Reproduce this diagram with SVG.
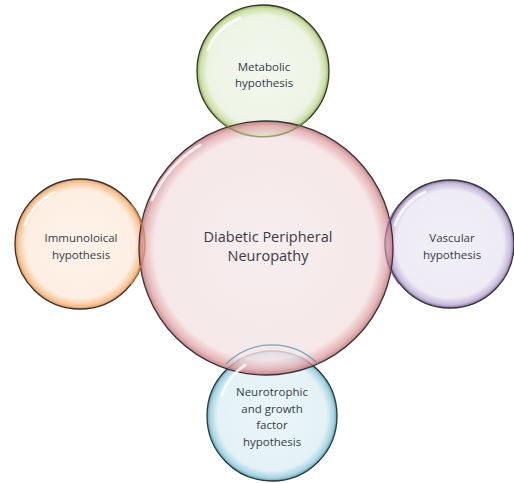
<svg xmlns="http://www.w3.org/2000/svg" width="514" height="483" viewBox="0 0 514 483">
<defs>
<style>
.t{font-family:"Open Sans","Liberation Sans",sans-serif;fill:#363b48;text-anchor:middle}
.s{font-size:11.5px}
.b{font-size:14.5px}
.edge{fill:none;stroke:#333333;stroke-width:1.3}
.hl{fill:none;stroke:#ffffff;stroke-width:3;stroke-linecap:round;opacity:0.8}
</style>
<radialGradient id="gR" cx="50%" cy="50%" r="50%"><stop offset="0" stop-color="#f6eaeb"/><stop offset="0.88" stop-color="#f4e3e5"/><stop offset="0.96" stop-color="#e0a8ab"/><stop offset="1" stop-color="#c06c72"/></radialGradient>
<radialGradient id="gG" cx="50%" cy="50%" r="50%"><stop offset="0" stop-color="#f3f7ee"/><stop offset="0.84" stop-color="#eef4e5"/><stop offset="0.95" stop-color="#cde0a8"/><stop offset="1" stop-color="#93b555"/></radialGradient>
<radialGradient id="gO" cx="50%" cy="50%" r="50%"><stop offset="0" stop-color="#fef3ea"/><stop offset="0.84" stop-color="#fdeee2"/><stop offset="0.95" stop-color="#f9c699"/><stop offset="1" stop-color="#ec9650"/></radialGradient>
<radialGradient id="gP" cx="50%" cy="50%" r="50%"><stop offset="0" stop-color="#f1eff6"/><stop offset="0.84" stop-color="#eeebf4"/><stop offset="0.95" stop-color="#c8bbdb"/><stop offset="1" stop-color="#8a73aa"/></radialGradient>
<radialGradient id="gB" cx="50%" cy="50%" r="50%"><stop offset="0" stop-color="#eaf5f8"/><stop offset="0.84" stop-color="#e4f2f6"/><stop offset="0.95" stop-color="#a8d6e4"/><stop offset="1" stop-color="#55adc6"/></radialGradient>
</defs>
<g id="connectors"></g>
<g id="metabolic">
<circle cx="263" cy="71" r="66" fill="url(#gG)"/>
<circle cx="263" cy="71" r="66" class="edge"/>
</g>
<g id="immunological">
<circle cx="80" cy="244" r="65" fill="url(#gO)"/>
<circle cx="80" cy="244" r="65" class="edge"/>
</g>
<g id="vascular">
<circle cx="450" cy="244" r="64" fill="url(#gP)"/>
<circle cx="450" cy="244" r="64" class="edge"/>
</g>
<g id="neurotrophic">
<circle cx="272" cy="416" r="65" fill="url(#gB)"/>
<circle cx="272" cy="416" r="65" class="edge"/>
</g>
<g id="center">
<circle cx="266" cy="248" r="127" fill="url(#gR)" opacity="0.82"/>
<circle cx="266" cy="248" r="127" class="edge"/>
<path d="M152 200 A122 122 0 0 1 200 145" class="hl"/>
</g>
<g id="overlay-edges">
<path d="M217 118 A66 66 0 0 0 309 118" fill="none" stroke="#7d9a48" stroke-width="1.2" opacity="0.8"/>
<path d="M226 364 A65 65 0 0 1 318 364" fill="none" stroke="#4a9bb0" stroke-width="1.2" opacity="0.8"/>
<path d="M131 204 A65 65 0 0 1 131 284" fill="none" stroke="#d98b4a" stroke-width="1.2" opacity="0.8"/>
<path d="M399 204 A64 64 0 0 0 399 284" fill="none" stroke="#7a5f9e" stroke-width="1.2" opacity="0.8"/>
</g>
<g id="highlights">
<path d="M208 50 A58 58 0 0 1 240 18" class="hl"/>
<path d="M25 225 A58 58 0 0 1 55 192" class="hl"/>
<path d="M395 225 A58 58 0 0 1 425 192" class="hl"/>
<path d="M222 395 A58 58 0 0 1 245 365" class="hl"/>
</g>
<g id="labels">
<text class="t s" x="264" y="71">Metabolic</text>
<text class="t s" x="264" y="87">hypothesis</text>
<text class="t s" x="81" y="242">Immunoloical</text>
<text class="t s" x="81" y="259">hypothesis</text>
<text class="t s" x="452" y="242">Vascular</text>
<text class="t s" x="452" y="259">hypothesis</text>
<text class="t s" x="272" y="396">Neurotrophic</text>
<text class="t s" x="272" y="413">and growth</text>
<text class="t s" x="272" y="429">factor</text>
<text class="t s" x="272" y="446">hypothesis</text>
<text class="t b" x="268" y="242">Diabetic Peripheral</text>
<text class="t b" x="268" y="261">Neuropathy</text>
</g>
</svg>
